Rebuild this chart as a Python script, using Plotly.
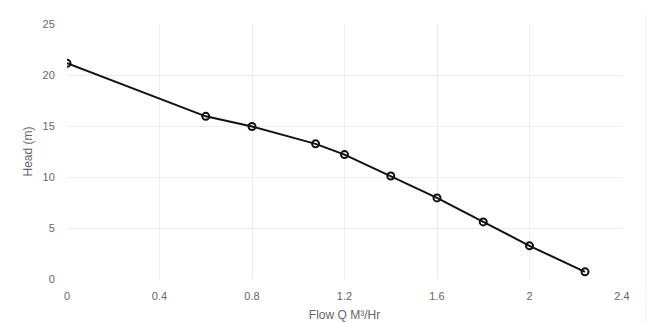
import plotly.graph_objects as go

flow = [0, 0.6, 0.8, 1.075, 1.2, 1.4, 1.6, 1.8, 2.0, 2.24]
head = [21.15, 15.95, 14.95, 13.25, 12.2, 10.1, 7.95, 5.6, 3.25, 0.7]
x_ticks = [0, 0.4, 0.8, 1.2, 1.6, 2, 2.4]
x_tick_labels = ["0", "0.4", "0.8", "1.2", "1.6", "2", "2.4"]
y_ticks = [0, 5, 10, 15, 20, 25]

fig = go.Figure()
fig.add_trace(go.Scatter(
    x=flow, y=head, mode="lines+markers",
    line=dict(color="#111111", width=2),
    marker=dict(symbol="circle-open", size=7, color="#111111", line=dict(width=2, color="#111111")),
    showlegend=False,
))

font = "Liberation Sans, Arial, sans-serif"
fig.update_layout(
    width=656, height=322,
    margin=dict(l=59, r=42, t=16, b=51),
    paper_bgcolor="white", plot_bgcolor="white",
    font=dict(family=font, size=11, color="#666666"),
    xaxis=dict(
        range=[0, 2.4], tickvals=x_ticks, ticktext=x_tick_labels,
        showgrid=True, gridcolor="#ececec", gridwidth=1,
        zeroline=False, showline=False, automargin=False,
        ticks="outside", ticklen=7, tickcolor="rgba(0,0,0,0)",
        title=dict(text="Flow Q M³/Hr", font=dict(size=12, color="#666666"), standoff=9),
    ),
    yaxis=dict(
        range=[0, 25], tickvals=y_ticks,
        showgrid=True, gridcolor="#ececec", gridwidth=1,
        zeroline=False, showline=False, automargin=False,
        ticks="outside", ticklen=9, tickcolor="rgba(0,0,0,0)",
        title=dict(text="Head (m)", font=dict(size=12, color="#666666"), standoff=7),
    ),
    shapes=[
        dict(type="line", xref="paper", yref="paper",
             x0=(3 - 67) / 555, x1=(3 - 67) / 555, y0=(322 - 43 - 15) / 255, y1=-60 / 255,
             line=dict(color="#eeeeee", width=1)),
        dict(type="line", xref="paper", yref="paper",
             x0=(646 - 67) / 555, x1=(646 - 67) / 555, y0=(322 - 43 - 15) / 255, y1=-60 / 255,
             line=dict(color="#eeeeee", width=1)),
    ],
)
fig.write_html("out.html")
